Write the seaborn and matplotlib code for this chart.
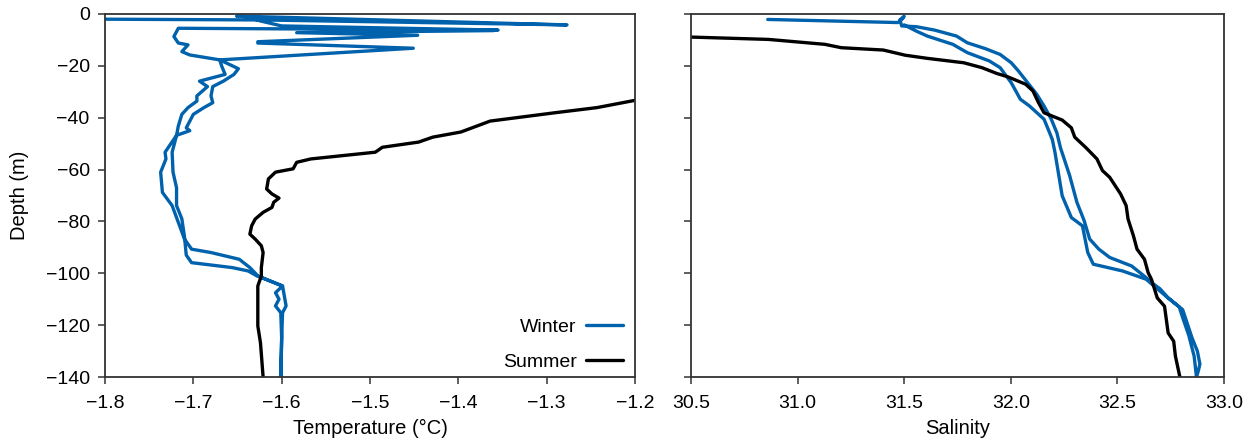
import matplotlib
matplotlib.use("Agg")
import matplotlib.pyplot as plt
import numpy as np
import pandas as pd
import seaborn as sns

sns.set_style("ticks")
plt.rcParams["font.family"] = ["Liberation Sans", "DejaVu Sans"]
plt.rcParams["text.color"] = "black"
plt.rcParams["axes.labelcolor"] = "black"
plt.rcParams["xtick.color"] = "black"
plt.rcParams["ytick.color"] = "black"

WINTER_COLOR = "#0062AC"
SUMMER_COLOR = "#000000"

# ---- Winter temperature profile (down-cast followed by up-cast) ----
winter_temp = [
    -1.800, -1.621, -1.277, -1.651, -1.640, -1.625, -1.600, -1.355, -1.717,
    -1.722, -1.717, -1.706, -1.713, -1.704, -1.670,
    -1.649, -1.654, -1.666, -1.678, -1.680, -1.678, -1.688, -1.700, -1.708,
    -1.704, -1.719, -1.724, -1.723, -1.719, -1.719, -1.713, -1.710, -1.708,
    -1.702, -1.656, -1.638, -1.628, -1.599, -1.595, -1.599, -1.600, -1.601,
    -1.600, -1.601, -1.607, -1.603, -1.607, -1.599, -1.627, -1.636, -1.648,
    -1.680, -1.702, -1.710, -1.724, -1.735, -1.737, -1.731, -1.732, -1.719,
    -1.717, -1.713, -1.706, -1.696, -1.696, -1.684, -1.693, -1.664, -1.668,
    -1.670, -1.451, -1.627, -1.627, -1.446, -1.583, -1.360,
]
winter_temp_depth = [
    -2.0, -2.3, -4.2, -0.8, -1.0, -2.6, -4.6, -6.2, -5.5,
    -8.7, -11.2, -11.9, -14.5, -15.8, -17.7,
    -21.1, -23.3, -25.9, -28.0, -31.6, -34.2, -36.1, -38.7, -43.9,
    -45.0, -46.8, -53.3, -61.0, -67.0, -73.9, -79.0, -86.0, -93.0,
    -95.9, -97.8, -99.1, -101.0, -104.9, -112.6, -115.2, -125.0, -140.0,
    -125.0, -115.2, -112.6, -110.0, -107.5, -104.9, -101.0, -97.8, -94.6,
    -92.0, -90.7, -86.8, -73.9, -68.8, -61.0, -55.9, -53.3, -46.8,
    -43.2, -38.7, -36.1, -33.6, -31.6, -28.0, -25.9, -23.3, -20.0,
    -17.7, -13.2, -11.2, -10.7, -8.2, -7.2, -6.4,
]

# ---- Summer temperature profile ----
summer_temp = [
    -1.200, -1.243, -1.291, -1.364, -1.397, -1.429, -1.445, -1.486, -1.494,
    -1.567, -1.583, -1.587, -1.607, -1.611, -1.615, -1.617, -1.611, -1.603,
    -1.609, -1.611, -1.621, -1.630, -1.634, -1.636, -1.630, -1.623, -1.621,
    -1.623, -1.623, -1.627, -1.627, -1.624, -1.621,
]
summer_temp_depth = [
    -33.3, -36.1, -38.1, -41.3, -45.5, -47.5, -49.4, -51.4, -53.3,
    -55.9, -57.2, -59.7, -61.0, -62.3, -63.6, -67.5, -69.4, -71.0,
    -72.6, -74.6, -76.5, -79.1, -81.7, -84.9, -86.8, -89.4, -92.0,
    -97.8, -101.0, -104.9, -120.3, -126.8, -140.0,
]

# ---- Winter salinity profile (down-cast followed by up-cast) ----
winter_sal = [
    30.86, 31.47, 31.49, 31.50, 31.48, 31.488,
    31.557, 31.642, 31.745, 31.796, 31.882, 31.950, 32.002, 32.036, 32.079,
    32.122, 32.156, 32.190, 32.216, 32.233, 32.276, 32.310, 32.344, 32.370,
    32.413, 32.464, 32.567, 32.635, 32.652, 32.700, 32.738, 32.790, 32.810,
    32.835, 32.860, 32.871,
    32.880, 32.887, 32.875, 32.850, 32.806, 32.738, 32.680, 32.635, 32.524,
    32.387, 32.361, 32.336, 32.284, 32.241, 32.207, 32.195, 32.182,
    32.156, 32.088, 32.045, 32.002, 31.950, 31.899, 31.796, 31.728, 31.608,
    31.557, 31.500,
]
winter_sal_depth = [
    -2.1, -3.3, -2.0, -0.9, -2.2, -4.6,
    -4.9, -6.2, -8.5, -11.1, -13.4, -15.6, -18.8, -22.0, -26.5,
    -31.0, -35.5, -40.6, -45.8, -51.6, -62.3, -72.6, -79.7, -86.8,
    -90.7, -93.9, -97.2, -101.7, -103.1, -106.0, -109.5, -113.0, -118.0,
    -124.0, -132.0, -140.0,
    -137.5, -135.0, -130.0, -124.9, -114.0, -109.5, -105.5, -102.3, -99.1,
    -96.5, -92.0, -81.7, -78.5, -70.1, -53.3, -48.5, -45.8,
    -40.6, -35.5, -32.9, -26.5, -20.7, -18.1, -14.9, -11.7, -8.5,
    -6.6, -4.2,
]

# ---- Summer salinity profile ----
summer_sal = [
    30.500, 30.863, 31.128, 31.205, 31.402, 31.505, 31.608, 31.779, 31.865,
    31.933, 31.985, 32.070, 32.104, 32.130, 32.156, 32.241, 32.284, 32.300,
    32.353, 32.404, 32.430, 32.464, 32.515, 32.541, 32.550, 32.575, 32.592,
    32.627, 32.644, 32.660, 32.687, 32.721, 32.738, 32.764, 32.772, 32.793,
]
summer_sal_depth = [
    -8.9, -9.8, -11.7, -13.0, -13.9, -15.9, -17.1, -18.8, -20.7,
    -22.9, -24.2, -27.1, -29.7, -34.2, -38.1, -40.9, -43.9, -47.5,
    -51.6, -55.9, -60.4, -63.0, -69.4, -73.9, -79.1, -85.5, -90.7,
    -94.6, -99.7, -102.4, -109.5, -112.7, -123.0, -126.2, -131.9, -140.0,
]

temp_ticks = [-1.8, -1.7, -1.6, -1.5, -1.4, -1.3, -1.2]
sal_ticks = [30.5, 31.0, 31.5, 32.0, 32.5, 33.0]
depth_ticks = [0, -20, -40, -60, -80, -100, -120, -140]

FS = 14
LW = 2.4

fig = plt.figure(figsize=(12.48, 4.43), dpi=100)
ax1 = fig.add_axes([105 / 1248, 66 / 443, 530 / 1248, 363 / 443])
ax2 = fig.add_axes([691 / 1248, 66 / 443, 533 / 1248, 363 / 443], sharey=ax1)

sns.lineplot(x=winter_temp, y=winter_temp_depth, sort=False, estimator=None,
             color=WINTER_COLOR, lw=LW, ax=ax1, label="Winter")
sns.lineplot(x=summer_temp, y=summer_temp_depth, sort=False, estimator=None,
             color=SUMMER_COLOR, lw=LW, ax=ax1, label="Summer")
sns.lineplot(x=winter_sal, y=winter_sal_depth, sort=False, estimator=None,
             color=WINTER_COLOR, lw=LW, ax=ax2, legend=False)
sns.lineplot(x=summer_sal, y=summer_sal_depth, sort=False, estimator=None,
             color=SUMMER_COLOR, lw=LW, ax=ax2, legend=False)

ax1.set_xlim(-1.8, -1.2)
ax2.set_xlim(30.5, 33.0)
ax1.set_ylim(-140, 0)

ax1.set_xticks(temp_ticks)
ax1.set_xticklabels([f"{t:.1f}".replace("-", "\u2212") for t in temp_ticks])
ax2.set_xticks(sal_ticks)
ax2.set_xticklabels([f"{t:.1f}" for t in sal_ticks])
ax1.set_yticks(depth_ticks)
ax1.set_yticklabels([f"{t:d}".replace("-", "\u2212") for t in depth_ticks])

ax1.set_xlabel("Temperature (\u00b0C)", fontsize=14.5, labelpad=5)
ax2.set_xlabel("Salinity", fontsize=14.5, labelpad=5)
ax1.set_ylabel("Depth (m)", fontsize=14.5, labelpad=12)
ax2.set_ylabel("")

for ax in (ax1, ax2):
    for sp in ax.spines.values():
        sp.set_visible(True)
        sp.set_color("#333333")
        sp.set_linewidth(1.3)
    ax.tick_params(axis="both", direction="out", length=5, width=1.1,
                   color="#333333", labelcolor="black", labelsize=FS)
    ax.tick_params(axis="x", pad=8)
    ax.tick_params(axis="y", pad=6)
    ax.tick_params(top=False, right=False)
plt.setp(ax2.get_yticklabels(), visible=False)

leg = ax1.legend(loc="lower right", bbox_to_anchor=(0.9925, -0.005),
                 frameon=False, markerfirst=False, fontsize=FS,
                 handlelength=1.9, labelspacing=0.9, borderaxespad=0.0,
                 handletextpad=0.5)
for txt in leg.get_texts():
    txt.set_color("black")

fig.savefig("out.png", dpi=100)
